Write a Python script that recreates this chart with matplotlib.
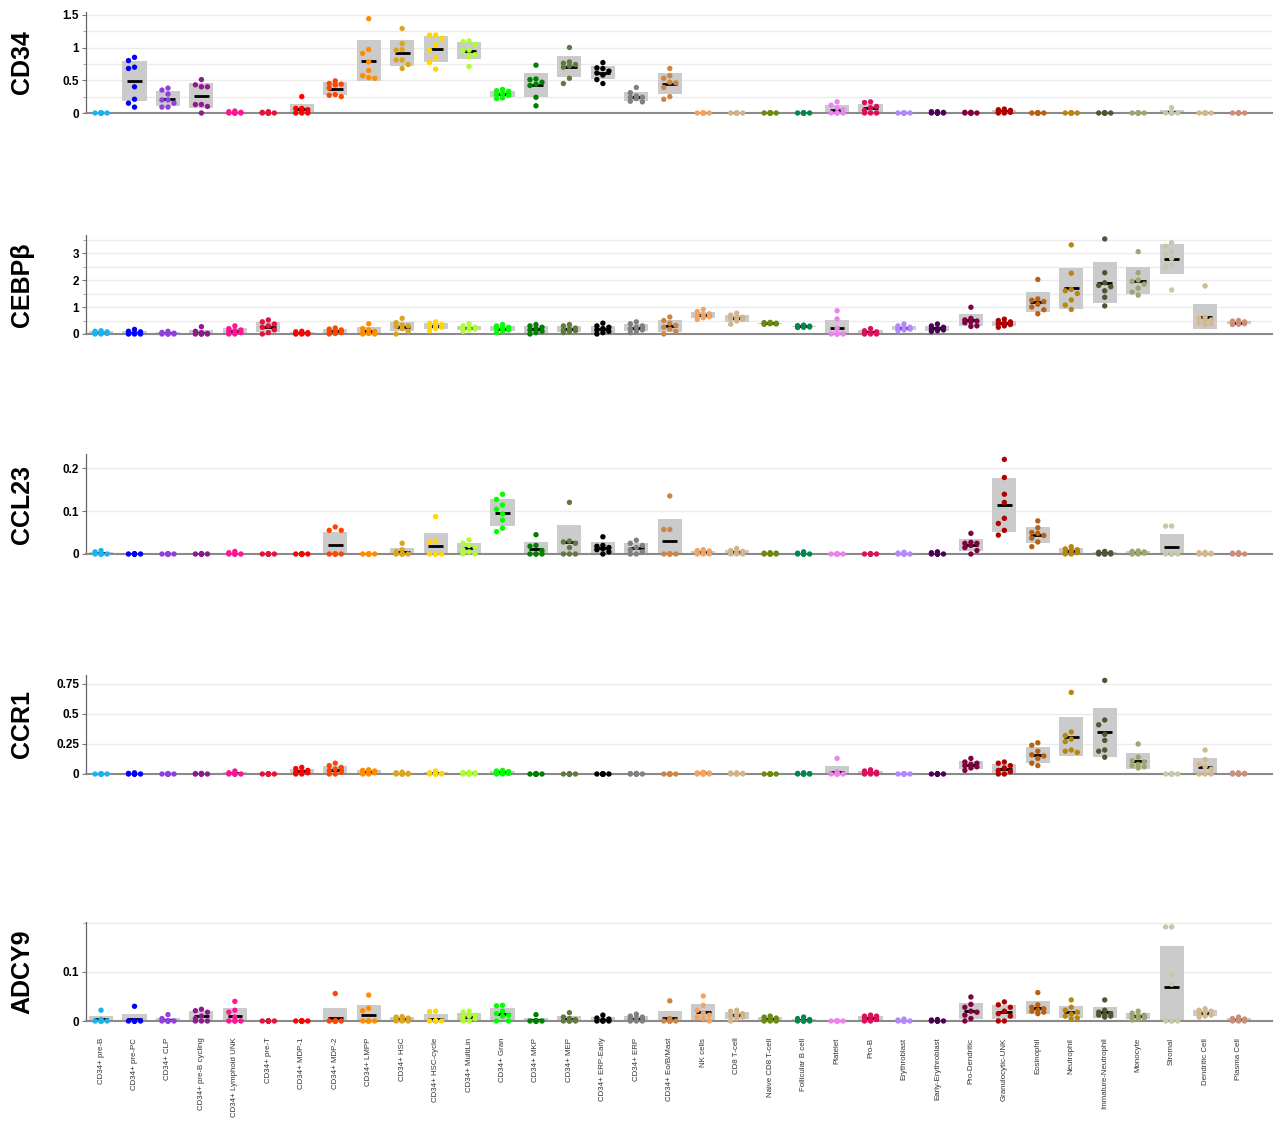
import numpy as np
import matplotlib
matplotlib.use("Agg")
import matplotlib.pyplot as plt
from matplotlib.ticker import MultipleLocator

plt.rcParams['font.family'] = ['Liberation Sans', 'DejaVu Sans']

cell_types = [
    "CD34+ pre-B", "CD34+ pre-PC", "CD34+ CLP", "CD34+ pre-B cycling",
    "CD34+ Lymphoid UNK", "CD34+ pre-T", "CD34+ MDP-1", "CD34+ MDP-2",
    "CD34+ LMPP", "CD34+ HSC", "CD34+ HSC-cycle", "CD34+ MultiLin",
    "CD34+ Gran", "CD34+ MKP", "CD34+ MEP", "CD34+ ERP-Early", "CD34+ ERP",
    "CD34+ Eo/B/Mast", "NK cells", "CD8 T-cell", "Naive CD8 T-cell",
    "Follicular B cell", "Platelet", "Pro-B", "Erythroblast",
    "Early-Erythroblast", "Pro-Dendritic", "Granulocytic-UNK", "Eosinophil",
    "Neutrophil", "Immature-Neutrophil", "Monocyte", "Stromal",
    "Dendritic Cell", "Plasma Cell",
]

cell_colors = [
    "#1ab2f0", "#0000ff", "#9040e0", "#8e1a8e", "#ff1493", "#e0143c",
    "#ff0000", "#ff4500", "#ff8c00", "#daa520", "#ffd700", "#adff2f",
    "#00ff00", "#008000", "#5f7a3a", "#000000", "#808080", "#cd853f",
    "#f4a460", "#d2b48c", "#6a8a10", "#00884a", "#ee82ee", "#dc0f5a",
    "#b388ff", "#4b0055", "#800040", "#b00000", "#b8600f", "#b8860b",
    "#4f5535", "#9aa870", "#c8c8a8", "#d4b88e", "#c8907a",
]

cd34 = [
    [0, 0, 0, 0, 0, 0, 0, 0],
    [0.85, 0.80, 0.70, 0.68, 0.40, 0.21, 0.15, 0.09],
    [0.38, 0.35, 0.29, 0.20, 0.20, 0.15, 0.09, 0.09],
    [0.51, 0.43, 0.40, 0.40, 0.13, 0.13, 0.10, 0.0],
    [0.03, 0.02, 0.01, 0, 0, 0, 0, 0],
    [0.02, 0.01, 0, 0, 0, 0, 0, 0],
    [0.25, 0.07, 0.07, 0.05, 0.02, 0, 0, 0],
    [0.49, 0.45, 0.44, 0.43, 0.38, 0.28, 0.27, 0.25],
    [1.44, 0.97, 0.91, 0.78, 0.65, 0.57, 0.54, 0.53],
    [1.29, 1.06, 0.97, 0.96, 0.81, 0.81, 0.74, 0.68],
    [1.19, 1.19, 1.14, 1.04, 0.96, 0.84, 0.77, 0.67],
    [1.10, 1.09, 1.05, 0.96, 0.95, 0.89, 0.86, 0.71],
    [0.36, 0.34, 0.33, 0.29, 0.28, 0.27, 0.23, 0.22],
    [0.73, 0.52, 0.51, 0.47, 0.44, 0.42, 0.24, 0.11],
    [1.00, 0.78, 0.76, 0.74, 0.72, 0.70, 0.53, 0.45],
    [0.77, 0.69, 0.68, 0.64, 0.61, 0.58, 0.51, 0.45],
    [0.39, 0.31, 0.26, 0.24, 0.24, 0.22, 0.18, 0.17],
    [0.68, 0.57, 0.53, 0.47, 0.46, 0.39, 0.25, 0.21],
    [0, 0, 0, 0, 0, 0, 0, 0],
    [0, 0, 0, 0, 0, 0, 0, 0],
    [0, 0, 0, 0, 0, 0, 0, 0],
    [0, 0, 0, 0, 0, 0, 0, 0],
    [0.17, 0.12, 0.08, 0.05, 0, 0, 0, 0],
    [0.17, 0.16, 0.10, 0.08, 0.04, 0, 0, 0],
    [0, 0, 0, 0, 0, 0, 0, 0],
    [0.02, 0.02, 0.01, 0, 0, 0, 0, 0],
    [0.01, 0.01, 0, 0, 0, 0, 0, 0],
    [0.06, 0.05, 0.04, 0.03, 0.02, 0.01, 0, 0],
    [0, 0, 0, 0, 0, 0, 0, 0],
    [0, 0, 0, 0, 0, 0, 0, 0],
    [0, 0, 0, 0, 0, 0, 0, 0],
    [0, 0, 0, 0, 0, 0, 0, 0],
    [0.08, 0, 0, 0, 0, 0, 0, 0],
    [0, 0, 0, 0, 0, 0, 0, 0],
    [0, 0, 0, 0, 0, 0, 0, 0],
]

cebpb = [
    [0.12, 0.10, 0.08, 0.06, 0.04, 0.02, 0, 0],
    [0.17, 0.10, 0.08, 0.03, 0.02, 0, 0, 0],
    [0.10, 0.06, 0.03, 0.02, 0, 0, 0, 0],
    [0.27, 0.10, 0.05, 0.02, 0, 0, 0, 0],
    [0.30, 0.20, 0.15, 0.12, 0.10, 0.05, 0, 0],
    [0.52, 0.45, 0.37, 0.30, 0.25, 0.15, 0.05, 0],
    [0.10, 0.08, 0.05, 0.03, 0.02, 0, 0, 0],
    [0.22, 0.18, 0.15, 0.10, 0.08, 0.05, 0.02, 0],
    [0.38, 0.20, 0.15, 0.10, 0.05, 0.02, 0, 0],
    [0.58, 0.42, 0.33, 0.30, 0.28, 0.20, 0.10, 0],
    [0.45, 0.40, 0.35, 0.30, 0.28, 0.25, 0.20, 0.12],
    [0.38, 0.30, 0.25, 0.22, 0.20, 0.18, 0.15, 0.10],
    [0.35, 0.30, 0.25, 0.22, 0.20, 0.15, 0.10, 0.05],
    [0.35, 0.30, 0.25, 0.20, 0.15, 0.10, 0.05, 0],
    [0.35, 0.30, 0.22, 0.18, 0.15, 0.12, 0.08, 0.05],
    [0.40, 0.30, 0.25, 0.20, 0.15, 0.10, 0.05, 0],
    [0.45, 0.38, 0.30, 0.25, 0.20, 0.15, 0.10, 0.05],
    [0.63, 0.50, 0.40, 0.32, 0.25, 0.18, 0.10, 0],
    [0.91, 0.83, 0.75, 0.70, 0.68, 0.64, 0.60, 0.54],
    [0.77, 0.70, 0.62, 0.58, 0.58, 0.55, 0.48, 0.36],
    [0.43, 0.42, 0.40, 0.40, 0.39, 0.38, 0.37, 0.36],
    [0.33, 0.31, 0.29, 0.28, 0.27, 0.26, 0.25, 0.24],
    [0.86, 0.56, 0.21, 0, 0, 0, 0, 0],
    [0.20, 0.12, 0.08, 0.05, 0.03, 0, 0, 0],
    [0.37, 0.30, 0.25, 0.22, 0.20, 0.18, 0.15, 0.12],
    [0.37, 0.30, 0.25, 0.20, 0.20, 0.15, 0.12, 0.10],
    [0.99, 0.58, 0.52, 0.48, 0.45, 0.42, 0.30, 0.28],
    [0.55, 0.50, 0.45, 0.40, 0.38, 0.35, 0.30, 0.25],
    [2.02, 1.30, 1.25, 1.20, 1.10, 1.00, 0.90, 0.75],
    [3.30, 2.25, 1.65, 1.60, 1.50, 1.26, 1.07, 0.91],
    [3.52, 2.27, 1.90, 1.80, 1.75, 1.60, 1.36, 1.04],
    [3.05, 2.27, 2.00, 1.95, 1.85, 1.70, 1.55, 1.44],
    [3.38, 3.25, 3.05, 2.95, 2.80, 2.55, 2.50, 1.63],
    [1.78, 0.62, 0.58, 0.52, 0.48, 0.42, 0.38, 0.35],
    [0.50, 0.48, 0.45, 0.42, 0.40, 0.38, 0.36, 0.35],
]

ccl23 = [
    [0.008, 0.005, 0, 0, 0, 0, 0, 0],
    [0, 0, 0, 0, 0, 0, 0, 0],
    [0, 0, 0, 0, 0, 0, 0, 0],
    [0, 0, 0, 0, 0, 0, 0, 0],
    [0.006, 0.003, 0, 0, 0, 0, 0, 0],
    [0, 0, 0, 0, 0, 0, 0, 0],
    [0, 0, 0, 0, 0, 0, 0, 0],
    [0.063, 0.055, 0.055, 0, 0, 0, 0, 0],
    [0, 0, 0, 0, 0, 0, 0, 0],
    [0.025, 0.010, 0.005, 0, 0, 0, 0, 0],
    [0.087, 0.030, 0.027, 0, 0, 0, 0, 0],
    [0.033, 0.025, 0.020, 0.015, 0.010, 0.005, 0, 0],
    [0.139, 0.127, 0.114, 0.104, 0.093, 0.079, 0.060, 0.052],
    [0.045, 0.020, 0.018, 0.008, 0, 0, 0, 0],
    [0.120, 0.030, 0.028, 0.025, 0.015, 0, 0, 0],
    [0.040, 0.020, 0.018, 0.015, 0.012, 0.010, 0.005, 0],
    [0.032, 0.025, 0.020, 0.015, 0.010, 0.005, 0, 0],
    [0.135, 0.057, 0.057, 0, 0, 0, 0, 0],
    [0.010, 0.008, 0.007, 0.005, 0.003, 0, 0, 0],
    [0.013, 0.008, 0.006, 0.004, 0.002, 0, 0, 0],
    [0.003, 0.002, 0.002, 0, 0, 0, 0, 0],
    [0.005, 0.002, 0, 0, 0, 0, 0, 0],
    [0, 0, 0, 0, 0, 0, 0, 0],
    [0, 0, 0, 0, 0, 0, 0, 0],
    [0.004, 0.002, 0, 0, 0, 0, 0, 0],
    [0.005, 0.003, 0, 0, 0, 0, 0, 0],
    [0.048, 0.027, 0.025, 0.025, 0.020, 0.015, 0.008, 0],
    [0.220, 0.178, 0.139, 0.120, 0.083, 0.071, 0.055, 0.044],
    [0.077, 0.061, 0.050, 0.048, 0.043, 0.037, 0.028, 0.017],
    [0.017, 0.012, 0.010, 0.008, 0.005, 0.003, 0, 0],
    [0.006, 0.004, 0.003, 0.002, 0, 0, 0, 0],
    [0.007, 0.006, 0.005, 0.004, 0.003, 0.002, 0, 0],
    [0.065, 0.065, 0, 0, 0, 0, 0, 0],
    [0.004, 0.003, 0.002, 0, 0, 0, 0, 0],
    [0.003, 0.002, 0, 0, 0, 0, 0, 0],
]

ccr1 = [
    [0, 0, 0, 0, 0, 0, 0, 0],
    [0.010, 0.005, 0, 0, 0, 0, 0, 0],
    [0, 0, 0, 0, 0, 0, 0, 0],
    [0.005, 0.003, 0, 0, 0, 0, 0, 0],
    [0.025, 0.010, 0, 0, 0, 0, 0, 0],
    [0, 0, 0, 0, 0, 0, 0, 0],
    [0.055, 0.045, 0.030, 0.020, 0.015, 0.010, 0, 0],
    [0.090, 0.070, 0.055, 0.040, 0.030, 0.015, 0, 0],
    [0.035, 0.030, 0.025, 0.020, 0.015, 0.010, 0, 0],
    [0.015, 0.010, 0.005, 0, 0, 0, 0, 0],
    [0.025, 0.010, 0.005, 0, 0, 0, 0, 0],
    [0.015, 0.012, 0.010, 0.005, 0, 0, 0, 0],
    [0.030, 0.025, 0.020, 0.015, 0.010, 0.005, 0, 0],
    [0, 0, 0, 0, 0, 0, 0, 0],
    [0, 0, 0, 0, 0, 0, 0, 0],
    [0, 0, 0, 0, 0, 0, 0, 0],
    [0.005, 0.003, 0, 0, 0, 0, 0, 0],
    [0, 0, 0, 0, 0, 0, 0, 0],
    [0.015, 0.010, 0.008, 0.005, 0, 0, 0, 0],
    [0.010, 0.008, 0.005, 0.003, 0, 0, 0, 0],
    [0, 0, 0, 0, 0, 0, 0, 0],
    [0.010, 0.005, 0.003, 0, 0, 0, 0, 0],
    [0.130, 0.020, 0, 0, 0, 0, 0, 0],
    [0.035, 0.025, 0.015, 0.010, 0.005, 0, 0, 0],
    [0.003, 0, 0, 0, 0, 0, 0, 0],
    [0, 0, 0, 0, 0, 0, 0, 0],
    [0.13, 0.10, 0.09, 0.08, 0.07, 0.06, 0.05, 0.03],
    [0.10, 0.09, 0.07, 0.05, 0.03, 0.02, 0, 0],
    [0.26, 0.24, 0.19, 0.16, 0.15, 0.13, 0.09, 0.07],
    [0.68, 0.35, 0.32, 0.29, 0.27, 0.20, 0.19, 0.18],
    [0.78, 0.45, 0.41, 0.33, 0.28, 0.20, 0.19, 0.14],
    [0.25, 0.14, 0.11, 0.10, 0.08, 0.07, 0.06, 0.05],
    [0.003, 0, 0, 0, 0, 0, 0, 0],
    [0.20, 0.12, 0.08, 0.06, 0.04, 0, 0, 0],
    [0.010, 0.008, 0.005, 0, 0, 0, 0, 0],
]

adcy9 = [
    [0.022, 0.003, 0, 0, 0, 0, 0, 0],
    [0.030, 0, 0, 0, 0, 0, 0, 0],
    [0.013, 0.005, 0, 0, 0, 0, 0, 0],
    [0.024, 0.021, 0.018, 0.010, 0.005, 0, 0, 0],
    [0.040, 0.022, 0.018, 0.008, 0, 0, 0, 0],
    [0, 0, 0, 0, 0, 0, 0, 0],
    [0, 0, 0, 0, 0, 0, 0, 0],
    [0.056, 0, 0, 0, 0, 0, 0, 0],
    [0.053, 0.026, 0.021, 0, 0, 0, 0, 0],
    [0.009, 0.008, 0.006, 0.005, 0.003, 0, 0, 0],
    [0.020, 0.019, 0, 0, 0, 0, 0, 0],
    [0.020, 0.018, 0.012, 0.010, 0.008, 0.005, 0, 0],
    [0.032, 0.031, 0.020, 0.015, 0.012, 0.010, 0, 0],
    [0.013, 0, 0, 0, 0, 0, 0, 0],
    [0.017, 0.008, 0.005, 0.003, 0, 0, 0, 0],
    [0.012, 0.006, 0.004, 0.002, 0, 0, 0, 0],
    [0.014, 0.010, 0.008, 0.005, 0.003, 0, 0, 0],
    [0.041, 0.005, 0, 0, 0, 0, 0, 0],
    [0.051, 0.032, 0.022, 0.016, 0.012, 0.008, 0.005, 0],
    [0.022, 0.020, 0.015, 0.012, 0.010, 0.008, 0.005, 0],
    [0.010, 0.008, 0.006, 0.004, 0.002, 0, 0, 0],
    [0.008, 0.005, 0.003, 0, 0, 0, 0, 0],
    [0, 0, 0, 0, 0, 0, 0, 0],
    [0.012, 0.010, 0.010, 0.008, 0.005, 0.003, 0, 0],
    [0.004, 0.002, 0, 0, 0, 0, 0, 0],
    [0.003, 0.002, 0, 0, 0, 0, 0, 0],
    [0.049, 0.034, 0.028, 0.020, 0.018, 0.012, 0.005, 0],
    [0.039, 0.033, 0.028, 0.020, 0.015, 0.010, 0, 0],
    [0.058, 0.033, 0.028, 0.025, 0.022, 0.020, 0.018, 0.015],
    [0.043, 0.028, 0.022, 0.018, 0.014, 0.010, 0.006, 0.004],
    [0.043, 0.022, 0.018, 0.015, 0.013, 0.012, 0.010, 0.008],
    [0.020, 0.016, 0.012, 0.010, 0.008, 0.006, 0.004, 0.002],
    [0.192, 0.192, 0.095, 0.075, 0, 0, 0, 0],
    [0.025, 0.022, 0.020, 0.018, 0.015, 0.012, 0.010, 0.008],
    [0.008, 0.005, 0.004, 0.003, 0.002, 0, 0, 0],
]

genes = ["CD34", "CEBP\u03b2", "CCL23", "CCR1", "ADCY9"]
gene_values = [cd34, cebpb, ccl23, ccr1, adcy9]
y_max = [1.55, 3.667, 0.2326, 0.825, 0.202]
grid_step = [0.25, 0.5, 0.1, 0.25, 0.1]
tick_vals = [[0, 0.5, 1, 1.5], [0, 1, 2, 3], [0, 0.1, 0.2],
             [0, 0.25, 0.5, 0.75], [0, 0.1]]
tick_text = [["0", "0.5", "1", "1.5"], ["0", "1", "2", "3"],
             ["0", "0.1", "0.2"], ["0", "0.25", "0.5", "0.75"], ["0", "0.1"]]

W, H = 1281, 1121
fig = plt.figure(figsize=(W / 100, H / 100), dpi=100)

# panel geometry in pixels: (zero line y, top y)
panel_px = [(113, 11.5), (334, 235), (554, 454), (774, 675), (1021, 922)]
left_px, right_px = 86, 1272
x_lo, x_hi = -0.45, 35.0

box_w = 0.72
mean_w = 0.44
col_step = 0.18
dot_px = 5.5


def swarm_columns(vals, thresh):
    """Assign each value to one of three columns (centre, left, right)."""
    order = np.argsort(vals)[::-1]
    cols = {0: [], -1: [], 1: []}
    offs = np.zeros(len(vals))
    for i in order:
        v = vals[i]
        chosen = None
        for c in (0, -1, 1):
            if all(abs(v - u) >= thresh for u in cols[c]):
                chosen = c
                break
        if chosen is None:
            chosen = max((0, -1, 1),
                         key=lambda c: min(abs(v - u) for u in cols[c]))
        cols[chosen].append(v)
        offs[i] = chosen
    return offs


n = len(cell_types)
xs = np.arange(n)

for k, gene in enumerate(genes):
    zero_y, top_y = panel_px[k]
    ax = fig.add_axes([left_px / W, (H - zero_y) / H,
                       (right_px - left_px) / W, (zero_y - top_y) / H])
    ax.set_xlim(x_lo, x_hi)
    ax.set_ylim(0, y_max[k])
    px_per_unit = (zero_y - top_y) / y_max[k]
    thresh = dot_px / px_per_unit

    # horizontal grid
    ax.yaxis.set_minor_locator(MultipleLocator(grid_step[k]))
    ax.grid(axis="y", which="both", color="#ebebeb", lw=1.0, zorder=0)
    ax.set_axisbelow(True)

    for i, vals in enumerate(gene_values[k]):
        v = np.asarray(vals, dtype=float)
        m = v.mean()
        sd = v.std(ddof=1)
        lo = max(m - sd, 0.0)
        hi = m + sd
        ax.add_patch(plt.Rectangle((xs[i] - box_w / 2, lo), box_w, hi - lo,
                                   facecolor="#cbcbcb", edgecolor="none",
                                   zorder=1))
        ax.plot([xs[i] - mean_w / 2, xs[i] + mean_w / 2], [m, m],
                color="black", lw=2.0, solid_capstyle="butt", zorder=2)
        offs = swarm_columns(v, thresh)
        ax.scatter(xs[i] + offs * col_step, v, s=15, color=cell_colors[i],
                   edgecolors="none", zorder=3, clip_on=False)

    ax.set_yticks(tick_vals[k])
    ax.set_yticklabels(tick_text[k], fontsize=8.5, fontweight="bold")
    ax.tick_params(axis="y", which="major", length=3, width=0.8,
                   color="#777777", pad=2)
    ax.tick_params(axis="y", which="minor", length=2, width=0.6,
                   color="#999999")
    for s in ("top", "right"):
        ax.spines[s].set_visible(False)
    ax.spines["left"].set_color("#666666")
    ax.spines["left"].set_linewidth(0.9)
    ax.spines["bottom"].set_color("#8a8a8a")
    ax.spines["bottom"].set_linewidth(1.5)

    ax.set_xticks(xs)
    if k == len(genes) - 1:
        ax.set_xticklabels(cell_types, rotation=90, fontsize=5.7,
                           color="#333333", va="top", ha="center")
        ax.tick_params(axis="x", length=0, pad=12)
    else:
        ax.set_xticklabels([])
        ax.tick_params(axis="x", length=0)

    fig.text(22 / W, (H - (zero_y + top_y) / 2) / H, gene, rotation=90,
             ha="center", va="center", fontsize=18, fontweight="bold")

fig.savefig("out.png", dpi=100)
